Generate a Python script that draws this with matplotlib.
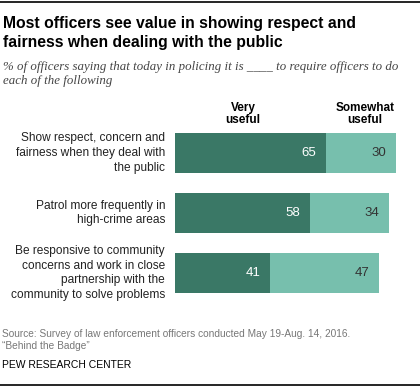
import matplotlib
matplotlib.use("Agg")
import matplotlib.pyplot as plt
from matplotlib.lines import Line2D

categories = [
    "Show respect, concern and\nfairness when they deal with\nthe public",
    "Patrol more frequently in\nhigh-crime areas",
    "Be responsive to community\nconcerns and work in close\npartnership with the\ncommunity to solve problems",
]
very_useful = [65, 58, 41]
somewhat_useful = [30, 34, 47]
series_names = ["Very\nuseful", "Somewhat\nuseful"]

W, H = 420, 387
fig = plt.figure(figsize=(W / 100, H / 100), dpi=100)

def px(x, y):
    return x / W, 1 - y / H

# axes in pixel geometry
left, top, width, height = 175, 123, 232.3, 180
ax = fig.add_axes([left / W, 1 - (top + height) / H, width / W, height / H])
ax.set_xlim(0, 100)
ax.set_ylim(2.5, -0.5)
ax.axis("off")

dark = "#3a7866"
light = "#77bfad"
ypos = list(range(len(categories)))
bh = 0.667
ax.barh(ypos, very_useful, height=bh, color=dark, linewidth=0)
ax.barh(ypos, somewhat_useful, left=very_useful, height=bh, color=light, linewidth=0)

sans = ["Liberation Sans", "DejaVu Sans"]
for y, v, s in zip(ypos, very_useful, somewhat_useful):
    ax.annotate(str(v), (v, y), xytext=(-7, 0), textcoords="offset points",
                ha="right", va="center", color="white", fontsize=9.5, family=sans)
    ax.annotate(str(s), (v + s, y), xytext=(-7, 0), textcoords="offset points",
                ha="right", va="center", color="#333333", fontsize=9.5, family=sans)
    ax.text(-0.043, y, categories[y], transform=ax.get_yaxis_transform(),
            ha="right", va="center", fontsize=8.6, family=sans, color="#222222",
            linespacing=1.3)

# series headers
fig.text(*px(243, 114), series_names[0], ha="center", va="center",
         fontsize=8.5, fontweight="bold", family=sans, linespacing=1.1)
fig.text(*px(365, 114), series_names[1], ha="center", va="center",
         fontsize=8.5, fontweight="bold", family=sans, linespacing=1.1)

# title
fig.text(*px(3, 33), "Most officers see value in showing respect and\nfairness when dealing with the public",
         ha="left", va="center", fontsize=11.3, fontweight="bold", family=sans,
         linespacing=1.3)
fig.text(*px(3, 74), "% of officers saying that today in policing it is ____ to require officers to do\neach of the following",
         ha="left", va="center", fontsize=9.3, style="italic",
         family=["Liberation Serif", "DejaVu Serif"], color="#444444", linespacing=1.15)

fig.text(*px(2, 340), "Source: Survey of law enforcement officers conducted May 19-Aug. 14, 2016.\n\u201cBehind the Badge\u201d",
         ha="left", va="center", fontsize=7.3, family=sans, color="#777777",
         linespacing=1.3)
fig.text(*px(2, 365), "PEW RESEARCH CENTER", ha="left", va="center", fontsize=7.5,
         family=sans, color="#000000")

fig.add_artist(Line2D([0, 1], [1 - 2 / H, 1 - 2 / H], color="black", lw=1.2,
                      transform=fig.transFigure))
fig.add_artist(Line2D([0, 1], [1 - 385 / H, 1 - 385 / H], color="black", lw=1.2,
                      transform=fig.transFigure))

fig.savefig("out.png", dpi=100)
